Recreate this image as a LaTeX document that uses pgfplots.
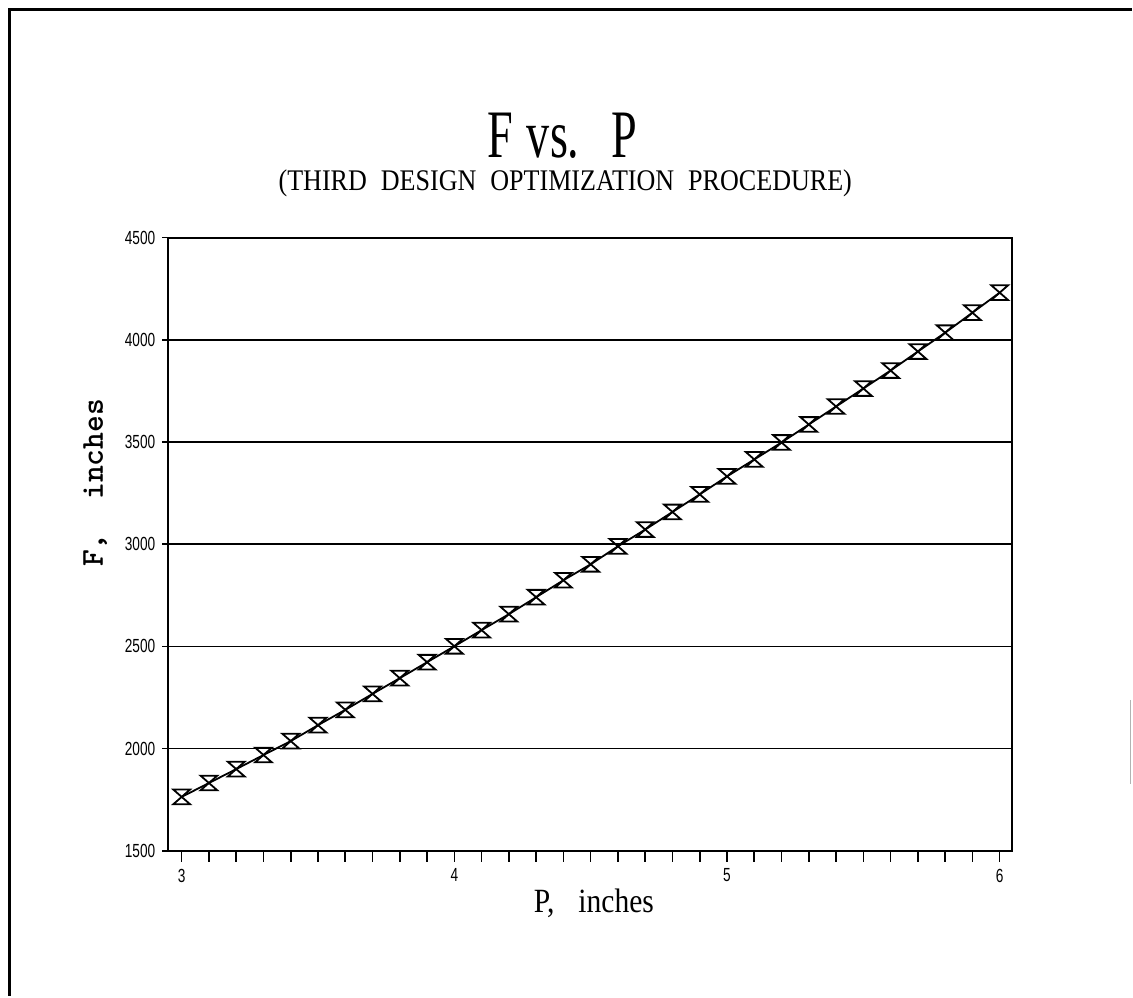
\documentclass[border=0pt]{standalone}
\usepackage{pgfplots}
\pgfplotsset{compat=1.18}
\usepackage{fontspec}
\setmainfont{Liberation Serif}
\newfontfamily\titlefont[FakeStretch=0.68]{Liberation Serif}
\newfontfamily\subfont[FakeStretch=0.87]{Liberation Serif}
\newfontfamily\tickfont[FakeStretch=0.72]{Liberation Sans}

% hourglass marker: top bar, diagonal, bottom bar, diagonal back
\pgfdeclareplotmark{hourglass}{%
  \pgfpathmoveto{\pgfqpoint{-\pgfplotmarksize}{0.875\pgfplotmarksize}}%
  \pgfpathlineto{\pgfqpoint{\pgfplotmarksize}{0.875\pgfplotmarksize}}%
  \pgfpathlineto{\pgfqpoint{-\pgfplotmarksize}{-0.875\pgfplotmarksize}}%
  \pgfpathlineto{\pgfqpoint{\pgfplotmarksize}{-0.875\pgfplotmarksize}}%
  \pgfpathclose
  \pgfusepathqstroke}

\begin{document}
\begin{tikzpicture}
% page extent
\path (0,0) rectangle (566.5pt,498.5pt);
% sheet border
\draw[line width=1.5pt] (5pt,0) -- (5pt,493.5pt) -- (566.5pt,493.5pt);
\draw[gray!60, line width=0.5pt] (565.8pt,148pt) -- (565.8pt,106pt);

\begin{axis}[
  at={(84pt,72.5pt)}, anchor=south west,
  scale only axis, width=422.5pt, height=307pt,
  xmin=2.949, xmax=6.044, ymin=1500, ymax=4500,
  xtick={3,4,5,6}, minor x tick num=9,
  ytick={1500,2000,...,4500},
  tick pos=left,
  xtick align=outside, ytick align=center,
  major tick length=5.5pt, minor tick length=5.5pt,
  tick style={black, line width=0.8pt},
  axis line style={line width=1pt},
  ymajorgrids, grid style={black, line width=0.8pt},
  /pgf/number format/assume math mode=true,
  /pgf/number format/1000 sep={},
  ticklabel style={font=\tickfont\fontsize{9.5}{10}\selectfont},
  xlabel={P,\hspace{12pt}inches},
  xlabel style={font=\subfont\fontsize{17}{17}\selectfont,
    at={(axis description cs:0.505,-0.086)}, anchor=center},
  ylabel={F,\ \ inches},
  ylabel style={font=\ttfamily\bfseries\fontsize{16}{16}\selectfont,
    at={(axis description cs:-0.086,0.6)}, anchor=center},
]
\addplot[black, line width=0.9pt, mark=hourglass, mark size=4.2pt,
  mark options={line width=0.9pt}] table {
x    y
3.0  1764
3.1  1832
3.2  1900
3.3  1969
3.4  2037
3.5  2115
3.6  2190
3.7  2268
3.8  2345
3.9  2423
4.0  2501
4.1  2580
4.2  2658
4.3  2741
4.4  2824
4.5  2902
4.6  2990
4.7  3072
4.8  3158
4.9  3244
5.0  3332
5.1  3415
5.2  3498
5.3  3586
5.4  3674
5.5  3762
5.6  3850
5.7  3943
5.8  4035
5.9  4133
6.0  4231
};
\end{axis}

\node[anchor=base, inner sep=0pt, text depth=0pt,
  font=\titlefont\fontsize{34}{34}\selectfont]
  at (281.5pt,419.5pt) {F\hspace{7pt}vs.\hspace{16pt}P};
\node[anchor=base, inner sep=0pt,
  font=\subfont\fontsize{15}{15}\selectfont]
  at (283pt,403pt) {(THIRD\hspace{7pt}DESIGN\hspace{7pt}OPTIMIZATION\hspace{7pt}PROCEDURE)};
\end{tikzpicture}
\end{document}
